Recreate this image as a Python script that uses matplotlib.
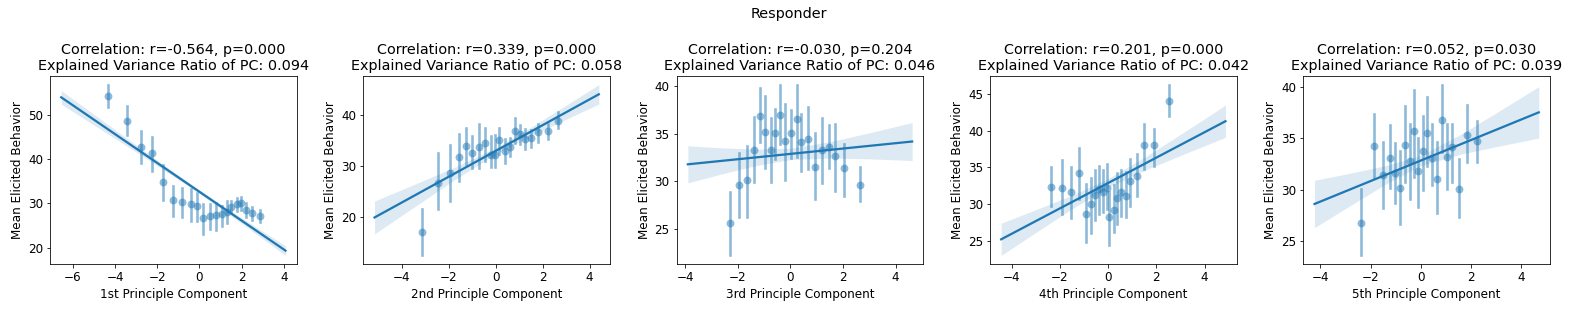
import matplotlib

matplotlib.use("Agg")
import matplotlib.pyplot as plt
import numpy as np


ORDINALS = ["1st", "2nd", "3rd", "4th", "5th"]
CORR_R = ["-0.564", "0.339", "-0.030", "0.201", "0.052"]
CORR_P = ["0.000", "0.000", "0.204", "0.000", "0.030"]
EVR = ["0.094", "0.058", "0.046", "0.042", "0.039"]

# binned means (x, y) and their error bar ranges, one list per PC
PC1_X = [-4.32, -3.41, -2.79, -2.27, -1.71, -1.25, -0.83, -0.40, -0.12, 0.19,
         0.50, 0.77, 1.05, 1.29, 1.52, 1.76, 1.99, 2.23, 2.50, 2.86]
PC1_Y = [54.3, 48.7, 42.9, 41.4, 34.9, 30.8, 30.4, 29.9, 29.4, 26.7,
         27.2, 27.3, 27.7, 28.1, 29.3, 29.9, 30.0, 28.5, 27.8, 27.2]
PC1_LO = [51.9, 45.5, 39.3, 37.3, 30.9, 27.2, 27.0, 26.1, 26.1, 23.1,
          24.3, 24.0, 25.0, 25.5, 28.0, 28.3, 28.6, 27.0, 26.2, 25.8]
PC1_HI = [57.0, 52.2, 46.4, 45.1, 38.8, 33.9, 33.5, 33.2, 32.4, 29.8,
          29.8, 30.2, 29.5, 30.5, 30.5, 31.3, 31.5, 30.0, 29.2, 28.6]

PC2_X = [-3.14, -2.44, -1.96, -1.57, -1.26, -1.01, -0.70, -0.45, -0.21, -0.03,
         0.15, 0.39, 0.63, 0.84, 1.05, 1.26, 1.49, 1.80, 2.22, 2.64]
PC2_Y = [17.2, 26.7, 28.7, 31.7, 34.0, 32.6, 33.8, 34.6, 32.2, 32.2,
         35.0, 32.9, 33.8, 36.9, 36.3, 35.3, 35.5, 36.6, 36.8, 38.8]
PC2_LO = [12.6, 21.6, 23.3, 27.2, 30.4, 29.6, 29.6, 31.0, 29.9, 29.8,
          32.3, 30.7, 32.0, 34.6, 34.4, 33.4, 33.7, 34.8, 35.3, 37.5]
PC2_HI = [21.7, 32.5, 34.1, 36.2, 37.4, 35.8, 38.2, 37.4, 35.9, 36.0,
          37.4, 35.2, 35.4, 39.4, 38.1, 37.3, 37.1, 38.2, 38.3, 40.5]

PC3_X = [-2.29, -1.96, -1.66, -1.38, -1.16, -0.96, -0.75, -0.57, -0.38, -0.20,
         0.04, 0.25, 0.42, 0.67, 0.93, 1.21, 1.45, 1.69, 2.05, 2.64]
PC3_Y = [25.6, 29.6, 30.1, 33.3, 36.9, 35.2, 33.3, 35.1, 37.0, 34.3,
         35.1, 36.6, 34.1, 34.5, 31.5, 33.3, 33.6, 32.7, 31.4, 29.6]
PC3_LO = [22.2, 26.3, 26.3, 29.9, 34.2, 31.4, 29.9, 32.4, 33.9, 30.1,
          32.5, 32.6, 31.1, 31.3, 28.1, 29.8, 31.4, 29.0, 28.5, 27.9]
PC3_HI = [28.9, 33.0, 33.7, 36.8, 39.8, 39.0, 36.7, 37.6, 40.1, 38.2,
          37.5, 40.2, 37.1, 37.8, 35.1, 36.7, 35.9, 36.0, 33.9, 31.5]

PC4_X = [-2.38, -1.90, -1.53, -1.20, -0.93, -0.73, -0.54, -0.37, -0.22, -0.05,
         0.04, 0.23, 0.36, 0.55, 0.73, 0.89, 1.20, 1.47, 1.91, 2.53]
PC4_Y = [32.4, 32.2, 31.6, 34.3, 28.6, 30.0, 31.2, 32.1, 31.7, 32.2,
         28.2, 29.2, 30.8, 31.6, 31.1, 33.1, 33.9, 38.1, 38.1, 44.0]
PC4_LO = [29.8, 28.6, 28.1, 30.7, 24.8, 26.0, 27.8, 28.6, 28.9, 29.4,
          24.4, 26.2, 27.3, 28.4, 28.3, 29.8, 31.1, 34.8, 35.2, 42.0]
PC4_HI = [35.1, 36.0, 35.1, 37.6, 32.7, 33.5, 34.7, 35.2, 34.7, 35.4,
          31.7, 32.6, 34.3, 34.7, 34.4, 36.1, 36.8, 40.9, 40.3, 46.3]

PC5_X = [-2.37, -1.88, -1.49, -1.22, -1.01, -0.83, -0.63, -0.44, -0.27, -0.09,
         0.07, 0.23, 0.44, 0.64, 0.84, 1.04, 1.26, 1.53, 1.86, 2.25]
PC5_Y = [26.8, 34.2, 31.4, 33.1, 31.6, 30.2, 34.3, 32.8, 35.7, 31.8,
         33.7, 35.5, 33.1, 31.0, 36.8, 33.2, 34.1, 30.1, 35.3, 34.7]
PC5_LO = [23.6, 31.1, 28.2, 30.2, 28.7, 26.7, 30.7, 29.1, 31.2, 28.3,
          30.0, 32.3, 30.4, 27.7, 33.6, 30.1, 30.7, 27.3, 32.7, 32.7]
PC5_HI = [30.1, 37.3, 34.6, 36.3, 34.5, 33.7, 38.1, 36.4, 39.7, 35.0,
          37.1, 39.0, 36.4, 34.6, 40.2, 36.4, 36.4, 33.0, 38.2, 36.7]

# fitted line end points (x0, x1, y0, y1)
FIT_X0 = [-6.55, -5.15, -3.90, -4.44, -4.23]
FIT_X1 = [4.08, 4.39, 4.63, 4.87, 4.70]
FIT_Y0 = [54.1, 20.0, 31.8, 25.2, 28.6]
FIT_Y1 = [19.3, 44.0, 34.2, 41.3, 37.5]

# confidence band half width read at a few x positions
BAND_X = [
    [-6.55, -4.5, -2.2, 0.0, 1.5, 3.0, 4.08],
    [-5.15, -3.4, -1.7, 0.0, 1.5, 3.0, 4.39],
    [-3.90, -2.6, -1.3, 0.0, 1.5, 3.0, 4.63],
    [-4.44, -3.0, -1.5, 0.0, 1.6, 3.2, 4.87],
    [-4.23, -2.8, -1.4, 0.0, 1.6, 3.1, 4.70],
]
BAND_HW = [
    [1.55, 1.11, 0.64, 0.40, 0.55, 0.85, 1.10],
    [3.20, 2.16, 1.20, 0.60, 0.86, 1.37, 1.90],
    [1.95, 1.37, 0.86, 0.60, 0.86, 1.37, 2.00],
    [2.20, 1.55, 0.93, 0.60, 0.92, 1.52, 2.20],
    [2.30, 1.57, 0.90, 0.50, 0.97, 1.69, 2.50],
]

PANELS = [
    (PC1_X, PC1_Y, PC1_LO, PC1_HI),
    (PC2_X, PC2_Y, PC2_LO, PC2_HI),
    (PC3_X, PC3_Y, PC3_LO, PC3_HI),
    (PC4_X, PC4_Y, PC4_LO, PC4_HI),
    (PC5_X, PC5_Y, PC5_LO, PC5_HI),
]

COLOR = "#1f77b4"


def draw_panel(ax, i: int) -> None:
    xs, ys, lo, hi = PANELS[i]
    ax.scatter(xs, ys, s=62, color=COLOR, alpha=0.5, linewidths=0)
    for x, a, b in zip(xs, lo, hi):
        ax.plot([x, x], [a, b], color=COLOR, alpha=0.5, linewidth=2.625)

    slope = (FIT_Y1[i] - FIT_Y0[i]) / (FIT_X1[i] - FIT_X0[i])
    bx = np.array(BAND_X[i])
    hw = np.array(BAND_HW[i])
    by = FIT_Y0[i] + slope * (bx - FIT_X0[i])
    ax.fill_between(bx, by - hw, by + hw, color=COLOR, alpha=0.15, linewidth=0)
    ax.plot([FIT_X0[i], FIT_X1[i]], [FIT_Y0[i], FIT_Y1[i]], color=COLOR, linewidth=2.25)

    ax.set_title(
        f"Correlation: r={CORR_R[i]}, p={CORR_P[i]}\n"
        f"Explained Variance Ratio of PC: {EVR[i]}"
    )
    ax.set_xlabel(f"{ORDINALS[i]} Principle Component")
    ax.set_ylabel("Mean Elicited Behavior")


def main() -> None:
    plt.rcParams.update({"figure.facecolor": "white", "axes.facecolor": "white", "font.size": 12})
    fig, axes = plt.subplots(1, 5, figsize=(1577 / 72, 311 / 72), dpi=72)
    fig.subplots_adjust(left=50 / 1577, right=1550 / 1577, bottom=47 / 311, top=1 - 76 / 311, wspace=0.27)
    for i, ax in enumerate(axes):
        draw_panel(ax, i)
    fig.suptitle("Responder", y=1 - 7 / 311, va="top")
    fig.savefig("out.png", dpi=72)
    plt.close(fig)


if __name__ == "__main__":
    main()
